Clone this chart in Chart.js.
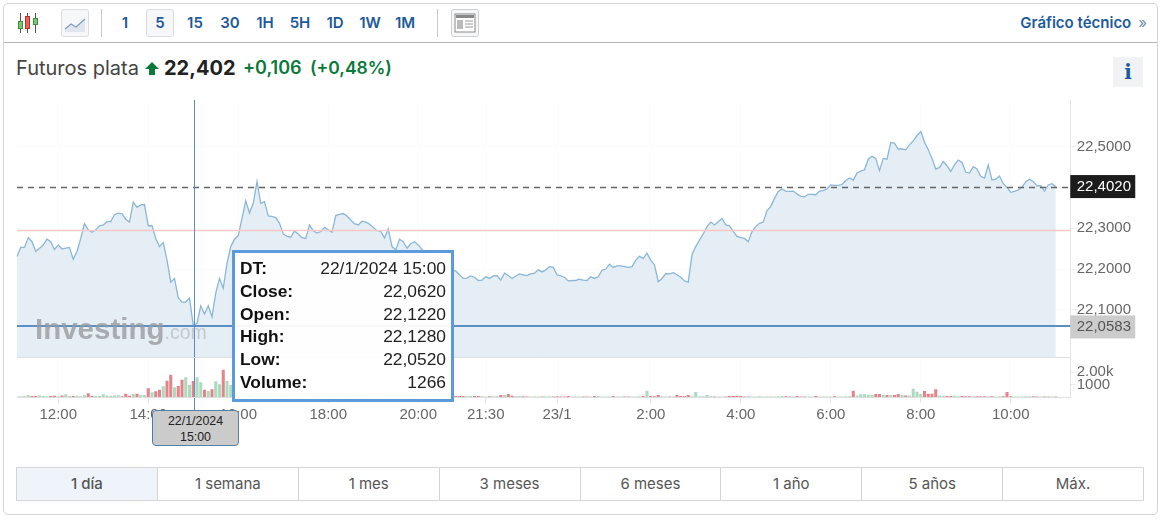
<!DOCTYPE html>
<html lang="es">
<head>
<meta charset="utf-8">
<title>Futuros plata</title>
<script src="https://cdn.jsdelivr.net/npm/chart.js@4/dist/chart.umd.js"></script>
<style>
html, body { margin: 0; padding: 0; background: #fff; width: 1166px; height: 521px; overflow: hidden; }
body { font-family: Inter, sans-serif; position: relative; }
#card { position: absolute; left: 3px; top: 3px; width: 1153px; height: 510px; border: 1px solid #d4d4d4; border-radius: 5px; }
#toolbarLine { position: absolute; left: 4px; top: 42px; width: 1153px; height: 1px; background: #b4b4b4; }
.abs { position: absolute; }
.sep { position: absolute; top: 9px; width: 1px; height: 28px; background: #c8c8c8; }
#intervals { position: absolute; left: 107.5px; top: 9px; display: flex; }
#intervals div { width: 35px; height: 28px; line-height: 28px; text-align: center; font-size: 15px; font-weight: 600; color: #1d5a9c; box-sizing: border-box; }
#intervals div.on { background: #f6f7f8; border: 1px solid #dcdcdc; border-radius: 3px; line-height: 26px; width: 28px; margin: 0 3.5px; }
#tecnico { position: absolute; right: 19px; top: 13px; font-size: 15px; font-weight: 600; color: #1d5a9c; }
#tecnico span { font-weight: 400; margin-left: 7px; color: #6d8db3; }
#head { position: absolute; left: 16px; top: 55px; height: 26px; line-height: 26px; white-space: nowrap; }
#head span { position: absolute; top: 0; }
#name { left: 0; font-size: 20px; color: #444; }
#last { left: 148px; font-size: 20px; font-weight: 700; color: #222; }
#chg { left: 227px; font-size: 18px; font-weight: 600; color: #0a7a3b; }
#pct { left: 294px; font-size: 17.5px; font-weight: 600; color: #0a7a3b; }
#infoBtn { position: absolute; left: 1113px; top: 57px; width: 30px; height: 30px; background: #f0f2f4; color: #1d5a9c; font: bold 20px/30px "DejaVu Serif", serif; text-align: center; }
#chartBox { position: absolute; left: 0; top: 90px; width: 1157px; height: 350px; }
#mark { position: absolute; left: 35px; top: 312px; white-space: nowrap; font-family: "Liberation Sans", sans-serif; }
#mark b { font-size: 29.5px; color: rgba(150,154,158,.78); }
#mark i { font-style: normal; font-size: 19.5px; color: rgba(170,175,180,.6); }
#tip { position: absolute; left: 232px; top: 250px; width: 222px; height: 152px; box-sizing: border-box; border: 3px solid #5b9bdc; background: rgba(255,255,255,.94); padding: 4px 5px 0 5px; font-family: "Liberation Sans", sans-serif; font-size: 17.4px; color: #222; }
#tip div { display: flex; justify-content: space-between; height: 22.8px; line-height: 22.8px; }
#tip b { color: #111; }
#dateBox { position: absolute; left: 152px; top: 410px; width: 87px; height: 36px; box-sizing: border-box; border: 1px solid #4f7fae; border-radius: 4px; background: #cbcbcb; font: 12.4px/16px "Liberation Sans", sans-serif; color: #222; text-align: center; padding-top: 2px; }
#ranges { position: absolute; left: 16px; top: 467px; width: 1128px; height: 34px; display: flex; box-sizing: border-box; border: 1px solid #d4d4d4; }
#ranges div { flex: 1; text-align: center; line-height: 31px; font-size: 15px; color: #555; border-left: 1px solid #d4d4d4; }
#ranges div:first-child { border-left: 0; background: #eef4fa; font-weight: 500; }
</style>
</head>
<body>
<div id="card"></div>
<div id="toolbarLine"></div>

<svg class="abs" style="left:17px;top:12px" width="24" height="22">
  <path d="M3.5 1v20M10.5 1v20M18.5 1v20" stroke="#555" stroke-width="1"/>
  <rect x="1.5" y="9.5" width="4" height="7" fill="#7cc576" stroke="#3f8f3a"/>
  <rect x="8.5" y="4.5" width="4" height="12" fill="#e8605a" stroke="#b5332e"/>
  <rect x="16.5" y="6.5" width="4" height="6" fill="#7cc576" stroke="#3f8f3a"/>
</svg>
<svg class="abs" style="left:61px;top:9px" width="28" height="28">
  <rect x=".5" y=".5" width="27" height="27" rx="2" fill="#f6f7f8" stroke="#dcdcdc"/>
  <path d="M4 20l6-5 5 3 9-8v13H4z" fill="#dfe6ef"/>
  <path d="M4 20l6-5 5 3 9-8" fill="none" stroke="#7f9cc0" stroke-width="1.2"/>
</svg>
<div class="sep" style="left:101px"></div>
<div id="intervals"></div>
<div class="sep" style="left:437px"></div>
<svg class="abs" style="left:451px;top:9px" width="28" height="28">
  <rect x=".5" y=".5" width="27" height="27" rx="2" fill="#f6f7f8" stroke="#cfcfcf"/>
  <rect x="4" y="5" width="20" height="18" fill="#fff" stroke="#888"/>
  <rect x="5" y="6" width="18" height="3" fill="#888"/>
  <rect x="6" y="11" width="6" height="9" fill="#bbb"/>
  <path d="M14 12h8M14 15h8M14 18h8" stroke="#999"/>
</svg>
<div id="tecnico">Gráfico técnico<span>»</span></div>

<div id="head">
  <span id="name">Futuros plata</span>
  <svg class="abs" style="left:129px;top:7px" width="14" height="13"><path d="M7 0L14 7H10V13H4V7H0z" fill="#0a7a3b"/></svg>
  <span id="last">22,402</span>
  <span id="chg">+0,106</span>
  <span id="pct">(+0,48%)</span>
</div>
<div id="infoBtn">i</div>

<div id="chartBox"><canvas id="priceChart" width="1157" height="350"></canvas></div>
<div id="mark"><b>Investing</b><i>.com</i></div>
<div id="tip"></div>
<div id="dateBox">22/1/2024<br>15:00</div>
<div id="ranges"></div>

<script>
// Closing price of each 5 minute bar
const closes = [
    22.231, 22.253, 22.253, 22.277, 22.267, 22.243, 22.251, 22.259, 22.273, 22.267,
    22.248, 22.259, 22.249, 22.251, 22.253, 22.224, 22.243, 22.275, 22.311, 22.296,
    22.290, 22.296, 22.306, 22.308, 22.316, 22.316, 22.333, 22.337, 22.335, 22.322,
    22.315, 22.364, 22.351, 22.357, 22.358, 22.306, 22.306, 22.275, 22.255, 22.265,
    22.222, 22.168, 22.177, 22.130, 22.119, 22.119, 22.129, 22.062, 22.067, 22.110,
    22.090, 22.110, 22.083, 22.141, 22.177, 22.153, 22.214, 22.255, 22.273, 22.282,
    22.324, 22.367, 22.337, 22.361, 22.414, 22.361, 22.365, 22.330, 22.329, 22.326,
    22.312, 22.286, 22.280, 22.278, 22.293, 22.286, 22.277, 22.275, 22.308, 22.294,
    22.288, 22.292, 22.302, 22.296, 22.290, 22.331, 22.334, 22.336, 22.330, 22.320,
    22.311, 22.308, 22.317, 22.315, 22.310, 22.302, 22.294, 22.293, 22.276, 22.298,
    22.255, 22.247, 22.273, 22.267, 22.251, 22.262, 22.267, 22.259, 22.248, 22.240,
    22.222, 22.229, 22.213, 22.218, 22.204, 22.208, 22.198, 22.195, 22.186, 22.177,
    22.178, 22.183, 22.180, 22.172, 22.173, 22.181, 22.177, 22.183, 22.184, 22.173,
    22.190, 22.184, 22.177, 22.183, 22.188, 22.186, 22.184, 22.188, 22.190, 22.198,
    22.193, 22.198, 22.206, 22.204, 22.186, 22.183, 22.180, 22.171, 22.172, 22.172,
    22.175, 22.173, 22.172, 22.181, 22.177, 22.181, 22.197, 22.200, 22.212, 22.204,
    22.208, 22.208, 22.206, 22.204, 22.206, 22.222, 22.231, 22.226, 22.239, 22.222,
    22.210, 22.169, 22.177, 22.189, 22.188, 22.191, 22.186, 22.180, 22.171, 22.168,
    22.235, 22.255, 22.271, 22.286, 22.304, 22.315, 22.308, 22.316, 22.324, 22.308,
    22.306, 22.292, 22.280, 22.277, 22.275, 22.267, 22.292, 22.304, 22.312, 22.315,
    22.343, 22.353, 22.373, 22.390, 22.396, 22.391, 22.390, 22.391, 22.384, 22.378,
    22.377, 22.383, 22.383, 22.382, 22.391, 22.392, 22.396, 22.406, 22.405, 22.405,
    22.407, 22.417, 22.423, 22.418, 22.435, 22.440, 22.443, 22.469, 22.476, 22.471,
    22.441, 22.471, 22.469, 22.510, 22.508, 22.494, 22.494, 22.492, 22.504, 22.514,
    22.527, 22.537, 22.511, 22.492, 22.471, 22.445, 22.449, 22.463, 22.453, 22.439,
    22.455, 22.467, 22.461, 22.437, 22.435, 22.451, 22.445, 22.427, 22.423, 22.455,
    22.418, 22.420, 22.428, 22.409, 22.400, 22.388, 22.390, 22.394, 22.400, 22.414,
    22.420, 22.414, 22.404, 22.404, 22.391, 22.406, 22.409, 22.402
];

const volumes = [
    30, 30, 50, 130, 60, 60, 90, 50, 30, 60,
    70, 40, 90, 200, 60, 50, 70, 40, 120, 270,
    50, 50, 60, 190, 100, 80, 100, 120, 40, 240,
    80, 215, 240, 130, 130, 670, 350, 430, 565, 835,
    1290, 1775, 750, 860, 1370, 1560, 970, 1266, 1560, 1157,
    565, 457, 590, 1237, 995, 2180, 1264, 940, 500, 300,
    200, 150, 180, 120, 160, 120, 90, 110, 80, 100,
    80, 60, 70, 90, 60, 50, 70, 60, 40, 60,
    50, 70, 40, 60, 50, 40, 70, 50, 40, 60,
    50, 40, 60, 30, 50, 40, 70, 50, 40, 60,
    50, 40, 30, 60, 40, 50, 30, 40, 30, 50,
    30, 40, 30, 20, 40, 30, 30, 50, 50, 50,
    50, 50, 50, 50, 30, 20, 40, 30, 40, 130,
    130, 215, 80, 50, 50, 30, 10, 10, 10, 10,
    10, 10, 10, 10, 30, 20, 20, 60, 20, 10,
    10, 10, 10, 20, 60, 50, 10, 10, 20, 60,
    10, 10, 10, 10, 20, 20, 30, 60, 480, 60,
    40, 130, 30, 20, 20, 20, 130, 50, 30, 130,
    40, 375, 40, 30, 130, 30, 10, 20, 20, 20,
    50, 50, 50, 50, 20, 10, 20, 20, 30, 10,
    10, 20, 20, 30, 60, 40, 10, 10, 50, 20,
    10, 10, 10, 50, 20, 10, 10, 10, 30, 10,
    20, 30, 40, 480, 100, 190, 190, 160, 130, 215,
    215, 130, 130, 130, 130, 215, 130, 100, 100, 645,
    400, 220, 460, 240, 240, 590, 100, 80, 60, 60,
    80, 40, 60, 30, 40, 40, 40, 30, 40, 30,
    40, 20, 30, 40, 375, 30, 20, 10, 20, 30,
    40, 40, 20, 20, 20, 30, 20, 10
];

// Bar slots on the time axis, the last few stay empty
const slotCount = 282;
const timeTicks = ['12:00', '14:00', '16:00', '18:00', '20:00', '21:30', '23/1', '2:00', '4:00', '6:00', '8:00', '10:00'];
const timeTickSlots = [11, 35, 59, 83, 107, 125, 144, 169, 193, 217, 241, 265];
const priceTicks = [22.1, 22.2, 22.3, 22.4, 22.5];
const volumeTicks = [1000, 2000];

const lastPrice = 22.402;
const prevClose = 22.296;
const crossPrice = 22.0583;
const crossSlot = 47;

const intervalLabels = ['1', '5', '15', '30', '1H', '5H', '1D', '1W', '1M'];
const rangeLabels = ['1 día', '1 semana', '1 mes', '3 meses', '6 meses', '1 año', '5 años', 'Máx.'];
const tipRows = [['DT:', '22/1/2024 15:00'], ['Close:', '22,0620'], ['Open:', '22,1220'], ['High:', '22,1280'], ['Low:', '22,0520'], ['Volume:', '1266']];

// Page furniture
document.getElementById('intervals').innerHTML = intervalLabels.map(l => `<div class="${l === '5' ? 'on' : ''}">${l}</div>`).join('');
document.getElementById('ranges').innerHTML = rangeLabels.map(l => `<div>${l}</div>`).join('');
document.getElementById('tip').innerHTML = tipRows.map(r => `<div><b>${r[0]}</b><span>${r[1]}</span></div>`).join('');

const commaPrice = v => v.toFixed(4).replace('.', ',');

// Reference lines, crosshair and the price badges on the axis
const overlayPlugin = {
    id: 'overlay',
    afterDatasetsDraw(chart) {
        const { ctx, chartArea, scales } = chart;
        const y = scales.y;
        const right = chartArea.right;
        const hLine = (value, color, width, dash, nudge) => {
            const py = Math.round(y.getPixelForValue(value)) + nudge;
            ctx.save();
            ctx.strokeStyle = color;
            ctx.lineWidth = width;
            ctx.setLineDash(dash);
            ctx.beginPath();
            ctx.moveTo(chartArea.left, py);
            ctx.lineTo(right, py);
            ctx.stroke();
            ctx.restore();
        };
        hLine(prevClose, '#f7c8c8', 1.5, [], 0.5);
        hLine(lastPrice, '#666666', 1.3, [6, 5], 0.5);
        hLine(crossPrice, '#5b8fc4', 2, [], -1);

        const px = Math.round(scales.x.getPixelForValue(crossSlot)) + 1.5;
        ctx.save();
        ctx.strokeStyle = '#5b8fc4';
        ctx.lineWidth = 1;
        ctx.beginPath();
        ctx.moveTo(px, chartArea.top);
        ctx.lineTo(px, chartArea.bottom + 14);
        ctx.stroke();
        ctx.restore();

        const badge = (value, bg, fg) => {
            const py = y.getPixelForValue(value);
            ctx.save();
            ctx.fillStyle = bg;
            ctx.fillRect(right - 0.5, py - 11.5, 65, 23);
            ctx.fillStyle = fg;
            ctx.font = '15px "Liberation Sans"';
            ctx.textBaseline = 'middle';
            ctx.fillText(commaPrice(value), right + 6, py);
            ctx.restore();
        };
        badge(lastPrice, '#1c1c1c', '#ffffff');
        badge(crossPrice, '#cccccc', '#555555');

        // pane separators
        ctx.save();
        ctx.strokeStyle = '#dfdfdf';
        ctx.lineWidth = 1;
        ctx.beginPath();
        ctx.moveTo(chartArea.left, Math.round(y.bottom) + 0.5);
        ctx.lineTo(right, Math.round(y.bottom) + 0.5);
        ctx.moveTo(chartArea.left, Math.round(chartArea.bottom) + 0.5);
        ctx.lineTo(right, Math.round(chartArea.bottom) + 0.5);
        ctx.stroke();
        ctx.restore();
    }
};

const axisFont = { family: 'Liberation Sans', size: 15 };

new Chart(document.getElementById('priceChart'), {
    data: {
        labels: Array.from({ length: slotCount }, (_, i) => i),
        datasets: [{
            type: 'line',
            data: closes,
            yAxisID: 'y',
            borderColor: '#8ab7d8',
            borderWidth: 1.3,
            backgroundColor: '#e6eef5',
            fill: 'start',
            pointRadius: 0,
            tension: 0,
            spanGaps: false
        }, {
            type: 'bar',
            data: volumes,
            yAxisID: 'vol',
            backgroundColor: volumes.map((_, i) => (i === 0 || closes[i] >= closes[i - 1]) ? 'rgba(120,195,150,.62)' : 'rgba(214,72,82,.68)'),
            barThickness: 2.4
        }]
    },
    options: {
        responsive: false,
        animation: false,
        layout: { padding: { left: 17, top: 10, right: 0, bottom: 0 } },
        plugins: { legend: { display: false }, tooltip: { enabled: false } },
        scales: {
            x: {
                type: 'category',
                offset: false,
                border: { display: false },
                grid: { color: '#fbfbfb', tickColor: '#e4e4e4', tickLength: 6, offset: false },
                ticks: {
                    autoSkip: false,
                    maxRotation: 0,
                    padding: 3,
                    color: '#666666',
                    font: axisFont,
                    callback: v => timeTicks[timeTickSlots.indexOf(v)]
                },
                afterBuildTicks: scale => { scale.ticks = timeTickSlots.map(v => ({ value: v })); },
                afterFit: scale => { scale.height = 43; }
            },
            y: {
                position: 'right',
                stack: 'panes',
                stackWeight: 257,
                min: 21.9846,
                max: 22.614,
                border: { color: '#e4e4e4' },
                grid: { color: '#fbfbfb', tickColor: '#ececec', tickLength: 6 },
                ticks: {
                    autoSkip: false,
                    padding: 0,
                    color: '#666666',
                    font: axisFont,
                    callback: v => commaPrice(v)
                },
                afterBuildTicks: scale => { scale.ticks = priceTicks.map(v => ({ value: v })); },
                afterFit: scale => { scale.width = 86.25; }
            },
            vol: {
                position: 'right',
                stack: 'panes',
                stackWeight: 40,
                min: 0,
                max: 3226,
                border: { color: '#e4e4e4' },
                grid: { display: true, drawOnChartArea: false, tickColor: '#ececec', tickLength: 6 },
                ticks: {
                    autoSkip: false,
                    padding: 0,
                    color: '#666666',
                    font: axisFont,
                    callback: v => (v >= 2000 ? (v / 1000).toFixed(2) + 'k' : String(v))
                },
                afterBuildTicks: scale => { scale.ticks = volumeTicks.map(v => ({ value: v })); },
                afterFit: scale => { scale.width = 86.25; }
            }
        }
    },
    plugins: [overlayPlugin]
});
</script>
</body>
</html>
